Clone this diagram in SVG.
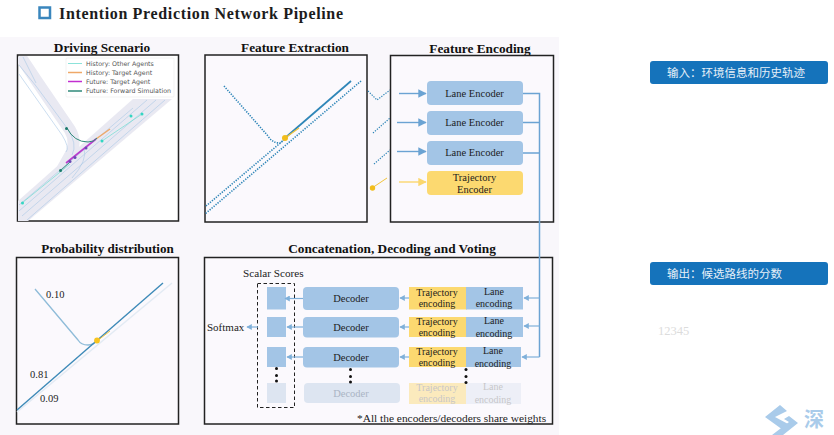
<svg xmlns="http://www.w3.org/2000/svg" width="834" height="435" viewBox="0 0 834 435">
<style>
.t{font-family:"Liberation Serif","Noto Sans CJK SC",serif;fill:#1c1c1c}
.h{font-weight:bold;font-size:13.3px;text-anchor:middle;fill:#111}
.l{font-size:10.5px;text-anchor:middle}
.s{font-size:10px;text-anchor:middle}
.frame{fill:#fbf9fd;stroke:#222;stroke-width:1.5}
.blue{fill:#a3c5e6}.yel{fill:#fcd970}
.pale{fill:#dde5f1}
.conn{fill:none;stroke:#6ba3d3;stroke-width:1.5}
.arr{fill:none;stroke:#6ba3d3;stroke-width:1.4;marker-end:url(#a)}
.arb{fill:none;stroke:#7fb0da;stroke-width:1.2;marker-end:url(#b)}
.dot{fill:none;stroke:#2f86b8;stroke-width:1.6;stroke-dasharray:1.3 1.3}
.lane{fill:none;stroke:#a9c8e6;stroke-width:.6}
.cn{font-family:"Noto Sans CJK SC",sans-serif;font-size:11.5px;fill:#e6f0f8}
.leg{font-family:"DejaVu Sans",sans-serif;font-size:6.3px;fill:#555}
.wm{fill:#a9cbea}
</style>
<defs>
<marker id="a" markerWidth="6" markerHeight="6" refX="5.500" refY="3" orient="auto"><path d="M0 0L6 3L0 6z" fill="#6ba3d3"/></marker>
<marker id="b" markerWidth="4.500" markerHeight="5" refX="4" refY="2.500" orient="auto"><path d="M0 0L4.500 2.500L0 5z" fill="#7fb0da"/></marker>
<marker id="y" markerWidth="6" markerHeight="6" refX="5.500" refY="3" orient="auto"><path d="M0 0L6 3L0 6z" fill="#fbd76e"/></marker>
<clipPath id="c1"><rect x="18" y="56" width="160" height="165"/></clipPath>
</defs>
<rect width="834" height="435" fill="#fff"/>
<rect y="37" width="559" height="398" fill="#f9f7fb"/>

<g id="title">
<rect x="39.500" y="7.500" width="10.500" height="10.500" fill="#fff" stroke="#3a86bd" stroke-width="2.500"/>
<text class="t" x="59" y="18.500" font-size="16px" font-weight="bold" letter-spacing=".65" fill="#111">Intention Prediction Network Pipeline</text>
</g>

<g id="driving-scenario">
<text class="t h" x="102" y="52">Driving Scenario</text>
<rect class="frame" x="17.500" y="55" width="161" height="166" style="fill:#fff"/>
<g clip-path="url(#c1)">
<path d="M18 201L133 99H172L28 221H18z" fill="#e9e9f2"/>
<path d="M20 56L36 80L70 130Q76 140 72 152L62 170" fill="none" stroke="#e9e9f2" stroke-width="12"/>
<path class="lane" d="M19 205L133 108M19 211L147 100M22 216L156 100M27 220L165 100"/>
<path class="lane" d="M19 65L36 86L67 128Q78 144 72 155M19 74L62 135Q70 148 66 152M23 57L36 83M72 178Q88 160 84 148"/>
</g>
<g fill="none">
<path d="M22 203L70 164" stroke="#6fdcd0" stroke-width=".7"/>
<path d="M102 141L142 114" stroke="#6fdcd0" stroke-width=".7"/>
<path d="M96 139L110 129" stroke="#efa868" stroke-width="1.500"/>
<path d="M66 163L96 139" stroke="#b93ccd" stroke-width="1.700"/>
<path d="M60 171L70 162M67 128Q74 142 88 142Q94 142 97 138" stroke="#2f8a7a" stroke-width="1"/>
</g>
<g fill="#33d6c2"><circle cx="22.500" cy="203" r="1.500"/><circle cx="102" cy="141" r="1.500"/><circle cx="131" cy="116" r="1.500"/><circle cx="142" cy="114" r="1.500"/></g>
<g fill="#1c7a6c"><circle cx="60.500" cy="170.500" r="1.500"/><circle cx="66.500" cy="128.500" r="1.500"/></g>
<g fill="#6a4bb5"><circle cx="70" cy="161.500" r="1.500"/><circle cx="75" cy="157.500" r="1.500"/><circle cx="86" cy="148" r="1.500"/></g>
<rect x="66" y="58" width="108" height="39" rx="1" fill="#fff" stroke="#e4e4e4" stroke-width=".5"/>
<path d="M68 63.500H82" stroke="#6fdcd0" stroke-width=".8"/><path d="M68 72.500H82" stroke="#efa868" stroke-width="1.500"/><path d="M68 81.500H82" stroke="#c22fd0" stroke-width="1.500"/><path d="M68 91H82" stroke="#2f8a7a" stroke-width="1.500"/>
<text class="leg" x="86" y="65.500">History: Other Agents</text>
<text class="leg" x="86" y="74.500">History: Target Agent</text>
<text class="leg" x="86" y="83.500">Future: Target Agent</text>
<text class="leg" x="86" y="93">Future: Forward Simulation</text>
</g>

<g id="feature-extraction">
<text class="t h" x="295" y="52">Feature Extraction</text>
<rect class="frame" x="205" y="55" width="162" height="167"/>
<path class="dot" d="M224 86L268 136Q272 143 280 143L285 139L206 206"/>
<path class="dot" d="M361 81L205 214"/>
<path d="M285 138L351 81" fill="none" stroke="#2f86b8" stroke-width="1.700"/>
<path d="M285 138L299 128" fill="none" stroke="#f2c43a" stroke-width="1.200"/>
<circle cx="285" cy="138" r="3" fill="#f2bd1c"/>
</g>

<g id="stray-segments">
<path class="dot" style="stroke-width:1.200" d="M368 91L377 100L390 90M373 133L390 118M374 164L390 150"/>
<path d="M372 188L387 178" fill="none" stroke="#f2c43a" stroke-width="1"/>
<circle cx="372.500" cy="188" r="2.700" fill="#f2bd1c"/>
</g>

<g id="feature-encoding">
<text class="t h" x="480" y="53">Feature Encoding</text>
<rect class="frame" x="390.500" y="55.500" width="163" height="166.500"/>
</g>
<g id="lane-encoder-1"><rect class="blue" x="427" y="81" width="96" height="24" rx="4"/><text class="t l" x="474.500" y="96.500">Lane Encoder</text></g>
<g id="lane-encoder-2"><rect class="blue" x="427" y="111" width="96" height="24" rx="4"/><text class="t l" x="474.500" y="126">Lane Encoder</text></g>
<g id="lane-encoder-3"><rect class="blue" x="427" y="141" width="96" height="24" rx="4"/><text class="t l" x="474.500" y="156">Lane Encoder</text></g>
<g id="trajectory-encoder"><rect class="yel" x="427" y="171" width="96" height="24" rx="4"/><text class="t l" x="474.500" y="181">Trajectory</text><text class="t l" x="474.500" y="193">Encoder</text></g>

<g id="probability-distribution">
<text class="t h" x="107.500" y="252.500" style="font-size:13.100px">Probability distribution</text>
<rect class="frame" x="16.500" y="257.500" width="162" height="166.500"/>
<path d="M17 412L172 283" fill="none" stroke="#e3ebf4" stroke-width="1.500"/>
<path d="M35 289L78 340Q81 345 88 345Q93 345 97 341" fill="none" stroke="#8fbcd9" stroke-width="1.300"/>
<path d="M17 410L163 283" fill="none" stroke="#3d8ab8" stroke-width="1.400"/>
<path d="M97 341L110 331" fill="none" stroke="#f2c43a" stroke-width="1"/>
<circle cx="97" cy="340.500" r="2.900" fill="#f7c41f"/>
<text class="t" x="46" y="298" font-size="10.500px">0.10</text>
<text class="t" x="30" y="378" font-size="10.500px">0.81</text>
<text class="t" x="40" y="402" font-size="10.500px">0.09</text>
</g>

<g id="concat-frame">
<text class="t h" x="392" y="253">Concatenation, Decoding and Voting</text>
<rect class="frame" x="204.500" y="257.500" width="348" height="166.500"/>
<text class="t" x="243" y="276.500" font-size="11.200px">Scalar Scores</text>
<rect x="257.500" y="283.500" width="37" height="124" fill="none" stroke="#222" stroke-width="1" stroke-dasharray="3.500 2.500"/>
<text class="t" x="207" y="330.500" font-size="11px">Softmax</text>
<text class="t" x="357" y="421.500" font-size="11.400px">*All the encoders/decoders share weights</text>
</g>
<g id="score-1"><rect class="blue" x="267" y="287" width="19" height="22.500"/></g>
<g id="score-2"><rect class="blue" x="267" y="317" width="19" height="20"/></g>
<g id="score-3"><rect class="blue" x="267" y="347" width="19" height="20"/></g>
<g id="score-4"><rect class="pale" x="267" y="383" width="19" height="20"/></g>
<g id="decoder-1"><rect class="blue" x="303" y="287" width="96" height="23" rx="4"/><text class="t s" x="351" y="302" style="font-size:10.500px">Decoder</text></g>
<g id="decoder-2"><rect class="blue" x="303" y="317" width="96" height="20.500" rx="4"/><text class="t s" x="351" y="331" style="font-size:10.500px">Decoder</text></g>
<g id="decoder-3"><rect class="blue" x="303" y="347" width="96" height="20.500" rx="4"/><text class="t s" x="351" y="361" style="font-size:10.500px">Decoder</text></g>
<g id="decoder-4"><rect class="pale" x="304" y="383" width="96" height="20" rx="4"/><text class="t s" x="351" y="397" style="font-size:10.500px;fill:#aab4c4">Decoder</text></g>
<g id="encoding-1"><rect class="yel" x="409" y="287" width="58" height="22.500"/><rect class="blue" x="466" y="287" width="57" height="22.500"/><text class="t s" x="437" y="296">Trajectory</text><text class="t s" x="437" y="307">encoding</text><text class="t s" x="494" y="295">Lane</text><text class="t s" x="494" y="307">encoding</text></g>
<g id="encoding-2"><rect class="yel" x="409" y="317" width="58" height="20"/><rect class="blue" x="466" y="317" width="57" height="20"/><text class="t s" x="437" y="325">Trajectory</text><text class="t s" x="437" y="336">encoding</text><text class="t s" x="494" y="324">Lane</text><text class="t s" x="494" y="337">encoding</text></g>
<g id="encoding-3"><rect class="yel" x="409" y="347" width="58" height="20"/><rect class="blue" x="466" y="347" width="55" height="20"/><text class="t s" x="437" y="355">Trajectory</text><text class="t s" x="437" y="366">encoding</text><text class="t s" x="493" y="354">Lane</text><text class="t s" x="493" y="367">encoding</text></g>
<g id="encoding-4" opacity=".45"><rect class="yel" x="409" y="383" width="58" height="21"/><rect class="pale" x="466" y="383" width="55" height="21"/><text class="t s" x="437" y="391" style="fill:#888">Trajectory</text><text class="t s" x="437" y="402" style="fill:#888">encoding</text><text class="t s" x="493" y="390" style="fill:#888">Lane</text><text class="t s" x="493" y="403" style="fill:#888">encoding</text></g>
<g id="ellipsis" fill="#111">
<circle cx="276.500" cy="368.500" r="1.500"/><circle cx="276.500" cy="375.500" r="1.500"/><circle cx="276.500" cy="381" r="1.500"/>
<circle cx="350.500" cy="369.500" r="1.500"/><circle cx="350.500" cy="376.500" r="1.500"/><circle cx="350.500" cy="382" r="1.500"/>
<circle cx="466" cy="369.500" r="1.500"/><circle cx="466" cy="376.500" r="1.500"/><circle cx="466" cy="382.500" r="1.500"/>
</g>

<g id="connectors">
<path class="arr" d="M399 93.500H426"/><path class="arr" d="M397 122.500H426"/><path class="arr" d="M397 151.500H426"/>
<path d="M399 182H426" fill="none" stroke="#fbd76e" stroke-width="1.400" marker-end="url(#y)"/>
<path class="conn" d="M523 93.500H539.500V357M523 122.500H539.500M523 153H539.500"/>
<path class="arb" d="M539.500 298H524"/><path class="arb" d="M539.500 326H524"/><path class="arb" d="M539.500 357H522"/>
<path class="arb" d="M409 298H400"/><path class="arb" d="M409 327H400"/><path class="arb" d="M409 357H400"/>
<path class="arb" d="M303 298.500H285"/><path class="arb" d="M303 327H287"/><path class="arb" d="M303 357H287"/>
<path class="arb" d="M258 327H247"/>
</g>

<g id="input-note"><rect x="650" y="61" width="178" height="23" rx="3" fill="#1573bb"/><text class="cn" x="667" y="77">输入：环境信息和历史轨迹</text></g>
<g id="output-note"><rect x="650" y="262" width="178" height="23" rx="3" fill="#1573bb"/><text class="cn" x="667" y="278">输出：候选路线的分数</text></g>
<text id="faint-number" class="t" x="658" y="335" font-size="12.500px" style="fill:#dcdcdc">12345</text>
<g id="watermark">
<path class="wm" d="M780 405L765 417L783 430L790 425L775 417L787 411z"/>
<path class="wm" d="M789 416L798 423L783 435H772L789 422L784 419z"/>
<text x="804" y="427" font-family="Noto Sans CJK SC,sans-serif" font-size="20px" font-weight="bold" fill="#a9cbea">深</text>
</g>
</svg>
